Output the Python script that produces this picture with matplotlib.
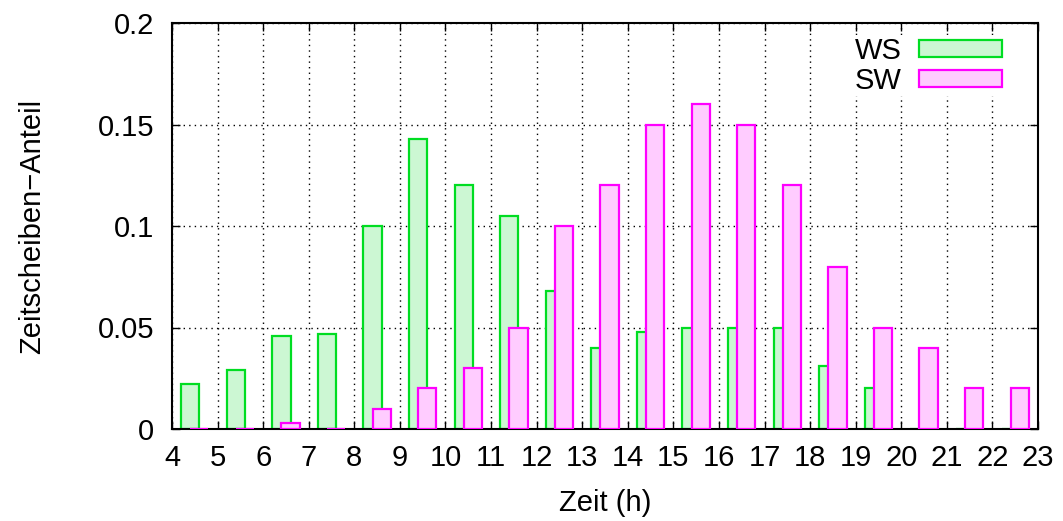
import matplotlib
matplotlib.use("Agg")
import matplotlib.pyplot as plt
import numpy as np

plt.rcParams['font.family'] = ['Liberation Sans', 'DejaVu Sans']

hours = [4, 5, 6, 7, 8, 9, 10, 11, 12, 13, 14, 15, 16, 17, 18, 19, 20, 21, 22]
ws = [0.022, 0.029, 0.046, 0.047, 0.100, 0.143, 0.120, 0.105, 0.068, 0.040,
      0.048, 0.050, 0.050, 0.050, 0.031, 0.020, 0.0, 0.0, 0.0]
sw = [0.0, 0.0, 0.003, 0.0, 0.010, 0.020, 0.030, 0.050, 0.100, 0.120,
      0.150, 0.160, 0.150, 0.120, 0.080, 0.050, 0.040, 0.020, 0.020]
xticks = list(range(4, 24))
yticks = [0, 0.05, 0.1, 0.15, 0.2]
ytick_labels = ['0', '0.05', '0.1', '0.15', '0.2']

FS = 21

fig = plt.figure(figsize=(10.63, 5.21), dpi=100)
ax = fig.add_axes([172/1063, 1-429/521, (1038-172)/1063, (429-23)/521])

h = np.array(hours, dtype=float)
ax.bar(h + 0.4, ws, width=0.4, color='#ccf7d3', edgecolor='#00dd22',
       linewidth=1.6, label='WS', zorder=2)
ax.bar(h + 0.6, sw, width=0.4, color='#ffccff', edgecolor='#ff00ff',
       linewidth=1.6, label='SW', zorder=3)

ax.set_xlim(4, 23)
ax.set_ylim(0, 0.2)
ax.set_xticks(xticks)
ax.set_xticklabels([str(t) for t in xticks])
ax.set_yticks(yticks)
ax.set_yticklabels(ytick_labels)
ax.tick_params(axis='both', direction='in', length=6, width=1.0,
               top=True, right=True, labelsize=FS)
ax.tick_params(axis='x', pad=11)
ax.tick_params(axis='y', pad=13)
ax.grid(True, linestyle=(0, (1, 3)), color='black', linewidth=1.0)
ax.set_axisbelow(True)
for s in ax.spines.values():
    s.set_linewidth(1.5)

ax.set_xlabel('Zeit (h)', fontsize=FS, labelpad=12)
ax.set_ylabel('Zeitscheiben\u2212Anteil', fontsize=FS, labelpad=37)

leg = ax.legend(loc='upper right', bbox_to_anchor=(0.96, 0.97), fontsize=FS,
                markerfirst=False, frameon=True, handlelength=2.84,
                handleheight=0.54, labelspacing=0.08, borderpad=0.05,
                handletextpad=0.6, borderaxespad=0.0)
leg.get_frame().set_facecolor('white')
leg.get_frame().set_edgecolor('none')
leg.get_frame().set_alpha(1.0)
leg.get_frame().set_boxstyle('square', pad=0)
for t in leg.get_texts():
    t.set_ha('right')

fig.savefig('out.png', dpi=100)
